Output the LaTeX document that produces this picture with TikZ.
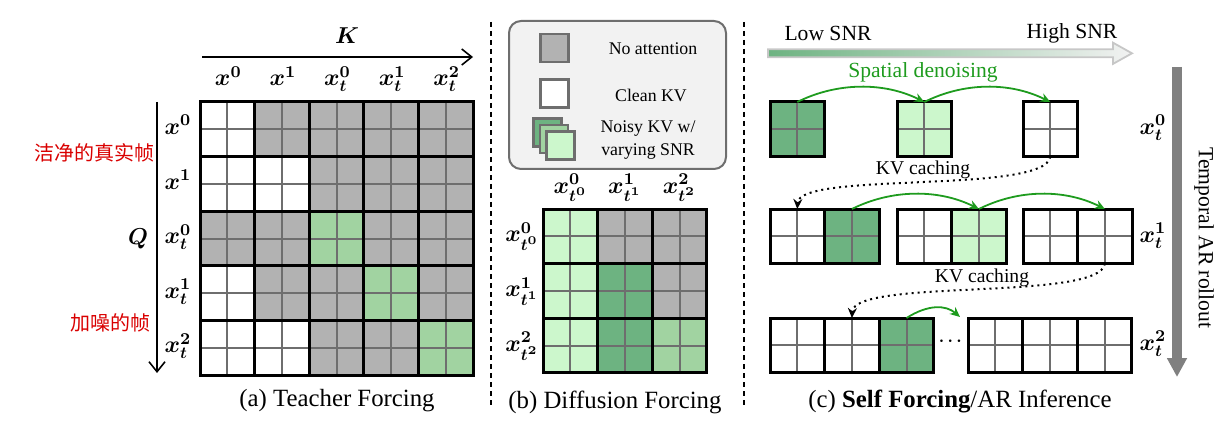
\RequirePackage{fix-cm}
\documentclass[tikz,border=0pt]{standalone}
\usepackage{amsmath,bm}
\usepackage{fontspec}
\setmainfont{Liberation Serif}
\newfontfamily\cjk{Noto Sans CJK SC}
\usetikzlibrary{arrows.meta,calc}
\definecolor{cgray}{HTML}{B2B2B2}
\definecolor{gdark}{HTML}{6DB381}
\definecolor{gmed}{HTML}{A1D3A1}
\definecolor{glight}{HTML}{CCF7CC}
\definecolor{lgray}{HTML}{6E6E6E}
\definecolor{arrg}{HTML}{1E9B1E}
\definecolor{cnred}{HTML}{D90000}
\definecolor{legbg}{HTML}{F2F2F2}
\definecolor{tgray}{HTML}{808080}
\begin{document}
\begin{tikzpicture}[x=0.5pt,y=-0.5pt,
  blk/.style={draw=black, line width=1.5pt, minimum width=27.3pt, minimum height=27.3pt,
    inner sep=0pt, outer sep=0pt,
    path picture={\draw[lgray, line width=1pt]
      (path picture bounding box.north) -- (path picture bounding box.south)
      (path picture bounding box.west) -- (path picture bounding box.east);}},
  mlab/.style={font=\fontsize{11.8}{13}\selectfont, anchor=base, inner sep=0pt},
  captxt/.style={font=\fontsize{12.4}{14}\selectfont, inner sep=0pt},
  legtxt/.style={font=\fontsize{8.9}{11.5}\selectfont, inner sep=0pt, align=center},
  cntxt/.style={font=\cjk\fontsize{10}{12}\selectfont, text=cnred, inner sep=0pt},
  snrtxt/.style={font=\fontsize{10.8}{13}\selectfont, inner sep=0pt},
  kvtxt/.style={font=\fontsize{9.8}{12}\selectfont, inner sep=0pt},
  legsq/.style={draw=lgray, line width=1.3pt, minimum size=14pt, inner sep=0pt},
  axarr/.style={line width=0.8pt, -{Straight Barb[length=5pt,width=8pt]}},
  grarr/.style={arrg, line width=0.9pt, -{Stealth[length=5pt,width=4.5pt]}},
  dotarr/.style={black, line width=1pt, dotted, -{Stealth[length=5pt,width=4.5pt]}},
  sep/.style={line width=1pt, dash pattern=on 2.5pt off 2pt}
]
\useasboundingbox (0,0) rectangle (1232,433);

% ---------------- (a) Teacher Forcing ----------------
\foreach \row [count=\r from 0] in {
  {white,cgray,cgray,cgray,cgray},
  {white,white,cgray,cgray,cgray},
  {cgray,cgray,gmed,cgray,cgray},
  {white,cgray,cgray,gmed,cgray},
  {white,white,cgray,cgray,gmed}}{
  \foreach \col [count=\c from 0] in \row {
    \node[blk, fill=\col] (a-\r-\c) at ({227.3+54.6*\c},{129.3+54.6*\r}) {};
  }
}
\foreach \lab [count=\c from 0] in {x^{0},x^{1},x_t^{0},x_t^{1},x_t^{2}}{
  \node[mlab] (ka-\c) at ({228.3+54.6*\c},86) {$\boldsymbol{\lab}$};
  \node[mlab] (qa-\c) at (178,{134.5+54.6*\c}) {$\boldsymbol{\lab}$};
}
\node[font=\fontsize{11.5}{13}\selectfont, inner sep=0pt] (K) at (347,36) {$\boldsymbol{K}$};
\node[font=\fontsize{11.5}{13}\selectfont, inner sep=0pt] (Q) at (138,239) {$\boldsymbol{Q}$};
\coordinate (kst) at (202,57); \coordinate (ken) at (473,57);
\coordinate (qst) at (157,102); \coordinate (qen) at (157,373);
\draw[axarr] (kst) -- (ken);
\draw[axarr] (qst) -- (qen);
\node[cntxt] (cn1) at (94,153) {洁净的真实帧};
\node[cntxt] (cn2) at (110,323) {加噪的帧};
\node[captxt] (capa) at (337,401) {(a) Teacher Forcing};

% separators
\draw[sep] (491,22) -- (491,406);
\draw[sep] (744,22) -- (744,406);

% ---------------- (b) Diffusion Forcing ----------------
\node[draw=lgray, line width=1pt, fill=legbg, rounded corners=6pt,
  minimum width=108.5pt, minimum height=74pt, inner sep=0pt] (legend) at (617.5,95) {};
\node[legsq, fill=cgray] (lg1) at (554.5,48) {};
\node[legsq, fill=white] (lg2) at (554.5,93.5) {};
\node[legsq, fill=gdark] (lg3a) at (547.5,132.5) {};
\node[legsq, fill=gmed] (lg3b) at (554,139) {};
\node[legsq, fill=glight] (lg3c) at (560.5,145.5) {};
\node[legtxt] (lt1) at (653,49) {No attention};
\node[legtxt] (lt2) at (651,95) {Clean KV};
\node[legtxt] (lt3) at (648,140) {Noisy KV w/\\varying SNR};

\foreach \row [count=\r from 0] in {
  {glight,cgray,cgray},
  {glight,gdark,cgray},
  {glight,gdark,gmed}}{
  \foreach \col [count=\c from 0] in \row {
    \node[blk, fill=\col] (b-\r-\c) at ({570.3+54.6*\c},{236.3+54.6*\r}) {};
  }
}
\foreach \lab [count=\c from 0] in {x^{0}_{t^0},x^{1}_{t^1},x^{2}_{t^2}}{
  \node[mlab] (kb-\c) at ({570.3+54.6*\c},193) {$\boldsymbol{\lab}$};
  \node[mlab] (qb-\c) at (522,{242+54.6*\c}) {$\boldsymbol{\lab}$};
}
\node[captxt] (capb) at (615,402) {(b) Diffusion Forcing};

% ---------------- (c) Self Forcing ----------------
\shadedraw[left color=gdark, right color=legbg, draw=black!22, line width=0.9pt]
  (768,49.3) -- (1113,49.3) -- (1113,42.7) -- (1132,53.3) -- (1113,63.9)
  -- (1113,57.3) -- (768,57.3) -- cycle;
\node[snrtxt] (low) at (828,33) {Low SNR};
\node[snrtxt] (high) at (1072,33) {High SNR};
\node[snrtxt, text=arrg] (spat) at (923,72) {Spatial denoising};

% row 0
\node[blk, fill=gdark] (c0-0) at (797.3,129.3) {};
\node[blk, fill=glight] (c0-1) at (924.3,129.3) {};
\node[blk, fill=white] (c0-2) at (1050.3,129.3) {};
% row 1
\foreach \xx/\col [count=\c from 0] in {797.3/white,851.9/gdark,924.3/white,978.9/glight,1050.3/white,1104.9/white}{
  \node[blk, fill=\col] (c1-\c) at (\xx,236.3) {};
}
% row 2
\foreach \xx/\col [count=\c from 0] in {797.3/white,851.9/white,906.5/gdark,995.3/white,1049.9/white,1104.5/white}{
  \node[blk, fill=\col] (c2-\c) at (\xx,345.3) {};
}
\node[font=\fontsize{8.5}{10}\selectfont, inner sep=0pt] (dots) at (952,341) {$\boldsymbol{\cdots}$};

\foreach \lab [count=\c from 0] in {x_t^{0},x_t^{1},x_t^{2}}{
  \node[mlab] (qc-\c) at (1153,{134.5+108*\c}) {$\boldsymbol{\lab}$};
}

\draw[grarr] (c0-0.north) .. controls +(40,-20) and +(-40,-20) .. (c0-1.north);
\draw[grarr] (c0-1.north) .. controls +(40,-20) and +(-40,-20) .. (c0-2.north);
\draw[grarr] (c1-1.north) .. controls +(40,-20) and +(-40,-20) .. (c1-3.north);
\draw[grarr] (c1-3.north) .. controls +(40,-20) and +(-40,-20) .. (c1-5.north);
\coordinate (gend) at (960,317);
\draw[grarr] (c2-2.north) .. controls +(22,-14) and +(-14,-12) .. (gend);

\draw[dotarr] (c0-2.south) .. controls +(-5,38) and +(2,-38) .. (c1-0.north);
\draw[dotarr] (c1-5.south) .. controls +(-5,38) and +(2,-40) .. (c2-1.north);
\node[kvtxt] (kv1) at (923,170) {KV caching};
\node[kvtxt] (kv2) at (982,278) {KV caching};

\coordinate (tst) at (1177,67); \coordinate (ten) at (1177,377);
\draw[tgray, line width=4.65pt, -{Triangle[length=9.5pt,width=9.5pt]}] (tst) -- (ten);
\node[snrtxt, rotate=-90] (temp) at (1204,238) {Temporal AR rollout};

\node[captxt] (capc) at (960,402) {(c) \textbf{Self Forcing}/AR Inference};
\end{tikzpicture}
\end{document}
